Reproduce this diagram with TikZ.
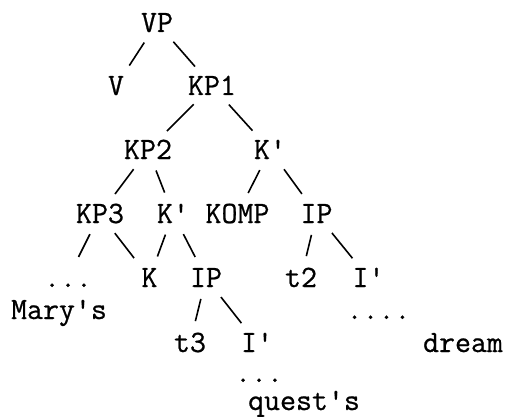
\documentclass[tikz,border=0pt]{standalone}
\usepackage{fontspec}
\usepackage{tikz}
\newfontfamily\typer[FakeBold=0.7]{Latin Modern Mono}

\tikzset{
  lab/.style={anchor=base, inner sep=2pt, text height=18pt, text depth=0pt,
    font=\typer\fontsize{31}{31}\selectfont},
  word/.style={anchor=base, inner sep=0pt, font=\typer\fontsize{31}{31}\selectfont},
  branch/.style={line width=1.6pt, shorten <=10pt, shorten >=11pt}
}

\begin{document}
\begin{tikzpicture}[x=1pt,y=-1pt]
  \useasboundingbox (0,0) rectangle (510,417);

  \node[lab] (VP) at (157,32) {VP};
  \node[lab] (V) at (116,95) {V};
  \node[lab] (KP1) at (212,95) {KP1};
  \node[lab] (KP2) at (148,159) {KP2};
  \node[lab] (Kb1) at (270,159) {K'};
  \node[lab] (KP3) at (100,223) {KP3};
  \node[lab] (Kb2) at (173,223) {K'};
  \node[lab] (KOMP) at (237.5,223) {KOMP};
  \node[lab] (IP1) at (316.5,223) {IP};
  \node[lab] (dots1) at (68,287) {...};
  \node[lab] (K) at (149.5,287) {K};
  \node[lab] (IP2) at (206,287) {IP};
  \node[lab] (t2) at (301,287) {t2};
  \node[lab] (Ib1) at (368.5,287) {I'};
  \node[lab] (t3) at (190,352) {t3};
  \node[lab] (Ib2) at (257,352) {I'};

  % words below the leaves
  \node[word] (marys) at (59,319) {Mary's};
  \node[word] (dots2) at (378.5,319) {....};
  \node[word] (dream) at (463,352) {dream};
  \node[word] (dots3) at (259,382) {...};
  \node[word] (guests) at (304,410) {quest's};

  \draw[branch] (VP) -- (V);
  \draw[branch] (VP) -- (KP1);
  \draw[branch] (KP1) -- (KP2);
  \draw[branch] (KP1) -- (Kb1);
  \draw[branch] (KP2) -- (KP3);
  \draw[branch] (KP2) -- (Kb2);
  \draw[branch] (Kb1) -- (KOMP);
  \draw[branch] (Kb1) -- (IP1);
  \draw[branch] (KP3) -- (dots1);
  \draw[branch] (KP3) -- (K);
  \draw[branch] (Kb2) -- (K);
  \draw[branch] (Kb2) -- (IP2);
  \draw[branch] (IP1) -- (t2);
  \draw[branch] (IP1) -- (Ib1);
  \draw[branch] (IP2) -- (t3);
  \draw[branch] (IP2) -- (Ib2);
\end{tikzpicture}
\end{document}
